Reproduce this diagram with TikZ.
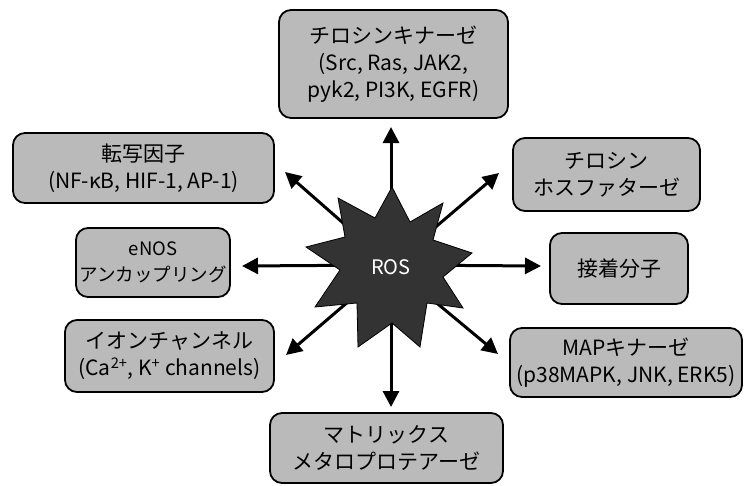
\documentclass[tikz,border=0pt]{standalone}
\usepackage{fontspec}
\setmainfont{Noto Sans CJK JP}
\usetikzlibrary{arrows.meta}
\begin{document}
\begin{tikzpicture}[x=1pt,y=-1pt,
  box/.style={draw=black, line width=1.8pt, rounded corners=12pt, fill=black!27,
    align=center, inner sep=0pt, font=\fontsize{21}{27}\selectfont},
  arr/.style={line width=3pt, -{Triangle[length=16pt,width=16pt]}},
  starshape/.style={draw=black, line width=0.8pt, fill=black!80, line join=miter},
]
\useasboundingbox (0,0) rectangle (744,485);
% boxes
\node[box, minimum width=229pt, minimum height=108pt] (tk) at (393.5,64)
  {チロシンキナーゼ\\(Src, Ras, JAK2,\\pyk2, PI3K, EGFR)};
\node[box, minimum width=261pt, minimum height=70pt] (tf) at (143.5,168)
  {転写因子\\(NF-κB, HIF-1, AP-1)};
\node[box, minimum width=187pt, minimum height=73pt] (ptp) at (606.5,174.5)
  {チロシン\\ホスファターゼ};
\node[box, minimum width=154pt, minimum height=69pt,
  font=\fontsize{18.5}{26}\selectfont] (enos) at (153,262.5)
  {eNOS\\アンカップリング};
\node[box, minimum width=138pt, minimum height=71pt] (adh) at (619,268.5)
  {接着分子};
\node[box, minimum width=209pt, minimum height=72pt] (ion) at (169.5,356)
  {イオンチャンネル\\(Ca\textsuperscript{2+}, K\textsuperscript{+} channels)};
\node[box, minimum width=232pt, minimum height=69pt] (map) at (626,362.5)
  {MAPキナーゼ\\(p38MAPK, JNK, ERK5)};
\node[box, minimum width=233pt, minimum height=70pt] (mmp) at (386.5,448)
  {マトリックス\\メタロプロテアーゼ};
% arrow ends
\coordinate (c) at (391,265);
\coordinate (tU) at (391,127);
\coordinate (tD) at (391,407);
\coordinate (tL) at (242,266);
\coordinate (tR) at (541,266);
\coordinate (tUL) at (285,172);
\coordinate (tUR) at (499,173);
\coordinate (tLL) at (286,355);
\coordinate (tLR) at (498,354);
\foreach \t in {tU,tD,tL,tR,tUL,tUR,tLL,tLR}
  \draw[arr] (c) -- (\t);
% star
\draw[starshape] (392,187) -- (410,222) -- (443,203) -- (433,240) -- (472,253)
  -- (443,277) -- (463,308) -- (427,303) -- (420,347) -- (392,323)
  -- (358,347) -- (357,303) -- (315,307) -- (340,270) -- (306,247)
  -- (345,237) -- (338,198) -- (375,218) -- cycle;
\node[text=white, font=\fontsize{20}{24}\selectfont] (ros) at (391,267) {ROS};
\end{tikzpicture}
\end{document}
